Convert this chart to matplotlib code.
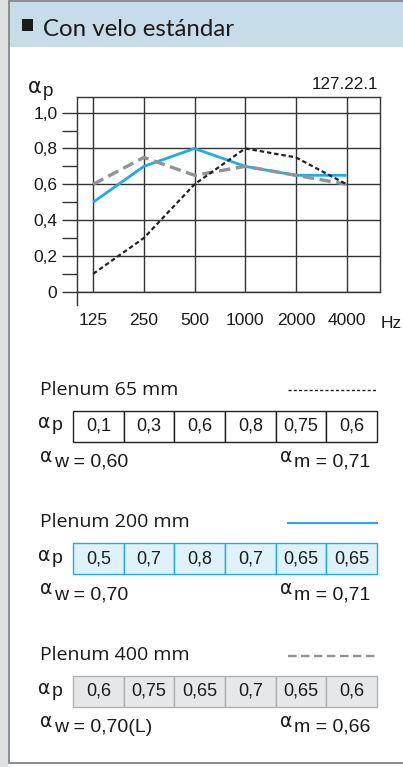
import matplotlib
matplotlib.use("Agg")
import matplotlib.pyplot as plt
import numpy as np
from matplotlib.patches import Rectangle
from matplotlib.lines import Line2D
from matplotlib.ticker import FixedLocator

# ---------------- data ----------------
freqs = [125, 250, 500, 1000, 2000, 4000]
y_ticks = [0, 0.2, 0.4, 0.6, 0.8, 1.0]
y_minor = [0.1, 0.3, 0.5, 0.7, 0.9]
plenum_labels = ["Plenum 65 mm", "Plenum 200 mm", "Plenum 400 mm"]
alpha_p_65 = [0.1, 0.3, 0.6, 0.8, 0.75, 0.6]
alpha_p_200 = [0.5, 0.7, 0.8, 0.7, 0.65, 0.65]
alpha_p_400 = [0.6, 0.75, 0.65, 0.7, 0.65, 0.6]
alpha_w = ["0,60", "0,70", "0,70(L)"]
alpha_m = ["0,71", "0,71", "0,66"]
title = "Con velo estándar"
code = "127.22.1"

# ---------------- styles ----------------
TXT = "#1a1a1a"
BORDER = "#8a9095"
GRIDC = "#333333"
BLUE = "#1fade6"
GRAY = "#8e9499"
BLACK = "#222222"
NUMFONT = "Liberation Sans"
LBLFONT = "Open Sans"
ALPHAFONT = "DejaVu Sans"

W, H = 403, 767
fig = plt.figure(figsize=(W / 100, H / 100), dpi=100)
fig.patch.set_facecolor("white")


def X(px):
    return px / W


def Y(py):
    return 1 - py / H


def rect(x0, y0, x1, y1, color):
    fig.add_artist(Rectangle((X(x0), Y(y1)), X(x1) - X(x0), (y1 - y0) / H,
                             transform=fig.transFigure, facecolor=color,
                             edgecolor="none", zorder=0))


# frame
rect(0, 0, 8, H, "#dfe0e2")
rect(10, 2, W, 47, "#c6dce8")
rect(8, 0, 10, 764, BORDER)
rect(8, 0, W, 2.2, BORDER)
rect(8, 761.8, W, 764, BORDER)

# header
rect(22, 19.5, 32.5, 30.5, "#1c1c1c")
fig.text(X(43), Y(35.5), title, fontsize=17.3, family="Lato", color=TXT,
         va="baseline", ha="left")

# ---------------- chart ----------------
xpos = np.log2(np.array(freqs) / 125.0)
ax = fig.add_axes([X(77), Y(291.7), (380 - 77) / W, (291.7 - 96.7) / H])
ax.set_xlim(-0.32, 5.66)
ax.set_ylim(0, 1.089)
for s in ax.spines.values():
    s.set_color(GRIDC)
    s.set_linewidth(1.0)
ax.set_xticks(xpos)
ax.set_xticklabels([str(f) for f in freqs])
ax.set_yticks(y_ticks)
ax.set_yticklabels(["0" if v == 0 else f"{v:.1f}".replace(".", ",") for v in y_ticks])
ax.yaxis.set_minor_locator(FixedLocator(y_minor))
ax.tick_params(axis="y", which="both", direction="out", length=10.8, width=1.0,
               color=GRIDC, pad=3.4, labelsize=12.5, labelcolor=TXT)
ax.tick_params(axis="x", length=0, pad=15.5, labelsize=12.5, labelcolor=TXT)
for lab in ax.get_xticklabels() + ax.get_yticklabels():
    lab.set_fontfamily(NUMFONT)
ax.grid(True, which="major", color=GRIDC, linewidth=1.0)
ax.set_axisbelow(True)
ax.plot([0, 0], [0, -0.068], transform=ax.transAxes, clip_on=False,
        color=GRIDC, lw=1.0)

style_200 = dict(color=BLUE, lw=2.0, solid_capstyle="butt")
style_400 = dict(color=GRAY, lw=2.4, dashes=(3.4, 1.7))
style_65 = dict(color=BLACK, lw=1.6, dashes=(2.0, 1.3))
ax.plot(xpos, alpha_p_200, zorder=3, **style_200)
ax.plot(xpos, alpha_p_400, zorder=4, **style_400)
ax.plot(xpos, alpha_p_65, zorder=5, **style_65)

fig.text(X(381), Y(328.5), "Hz", fontsize=12.5, family=NUMFONT, color=TXT,
         va="baseline", ha="left")
fig.text(X(378), Y(89), code, fontsize=12.3, family=NUMFONT, color=TXT,
         va="baseline", ha="right")

fig.canvas.draw()
renderer = fig.canvas.get_renderer()


def alpha_label(x, base_y, sub, size=12, asize=13.5, raise_px=4, right=False):
    """alpha sign followed by a subscript/suffix text."""
    if not right:
        a = fig.text(X(x), Y(base_y - raise_px), "α", fontsize=asize,
                     family=ALPHAFONT, color=TXT, va="baseline", ha="left")
        bb = a.get_window_extent(renderer)
        fig.text((bb.x1 + 1.5) / W, Y(base_y), sub, fontsize=size,
                 family=NUMFONT, color=TXT, va="baseline", ha="left")
    else:
        t = fig.text(X(x), Y(base_y), sub, fontsize=size, family=NUMFONT,
                     color=TXT, va="baseline", ha="right")
        bb = t.get_window_extent(renderer)
        fig.text((bb.x0 - 1.5) / W, Y(base_y - raise_px), "α", fontsize=asize,
                 family=ALPHAFONT, color=TXT, va="baseline", ha="right")


# alpha_p above chart
alpha_label(28, 96, "p", size=13.5, asize=15, raise_px=3)

# ---------------- tables ----------------
rows = [
    (alpha_p_65, "white", "#222222", dict(color=BLACK, lw=1.0, dashes=(2.2, 1.6))),
    (alpha_p_200, "#dff1fb", BLUE, dict(color=BLUE, lw=1.5)),
    (alpha_p_400, "#e6e7e8", "#aeb1b4", dict(color=GRAY, lw=1.7, dashes=(3.6, 1.9))),
]
tops = [410.7, 543.3, 676.0]
for i, (vals, face, edge, leg) in enumerate(rows):
    T = tops[i]
    fig.text(X(40), Y(T - 16), plenum_labels[i], fontsize=14, family=LBLFONT,
             color=TXT, va="baseline", ha="left")
    fig.add_artist(Line2D([X(288), X(377)], [Y(T - 20.5)] * 2,
                          transform=fig.transFigure, **leg))
    tax = fig.add_axes([X(73), Y(T + 31), (377 - 73) / W, 31 / H])
    tax.axis("off")
    tbl = tax.table(cellText=[[str(v).replace(".", ",") for v in vals]],
                    cellLoc="center", bbox=[0, 0, 1, 1])
    tbl.auto_set_font_size(False)
    tbl.set_fontsize(13)
    for (r, c), cell in tbl.get_celld().items():
        cell.set_facecolor(face)
        cell.set_edgecolor(edge)
        cell.set_linewidth(1.0)
        cell.get_text().set_fontfamily(NUMFONT)
        cell.get_text().set_color(TXT)
    alpha_label(38, T + 19.5, "p", size=14, asize=13.5, raise_px=2)
    alpha_label(40, T + 56, "w = " + alpha_w[i], size=14, asize=13.5, raise_px=5)
    alpha_label(370, T + 56, "m = " + alpha_m[i], size=14, asize=13.5,
                raise_px=5, right=True)

fig.savefig("out.png", dpi=100, facecolor="white")
